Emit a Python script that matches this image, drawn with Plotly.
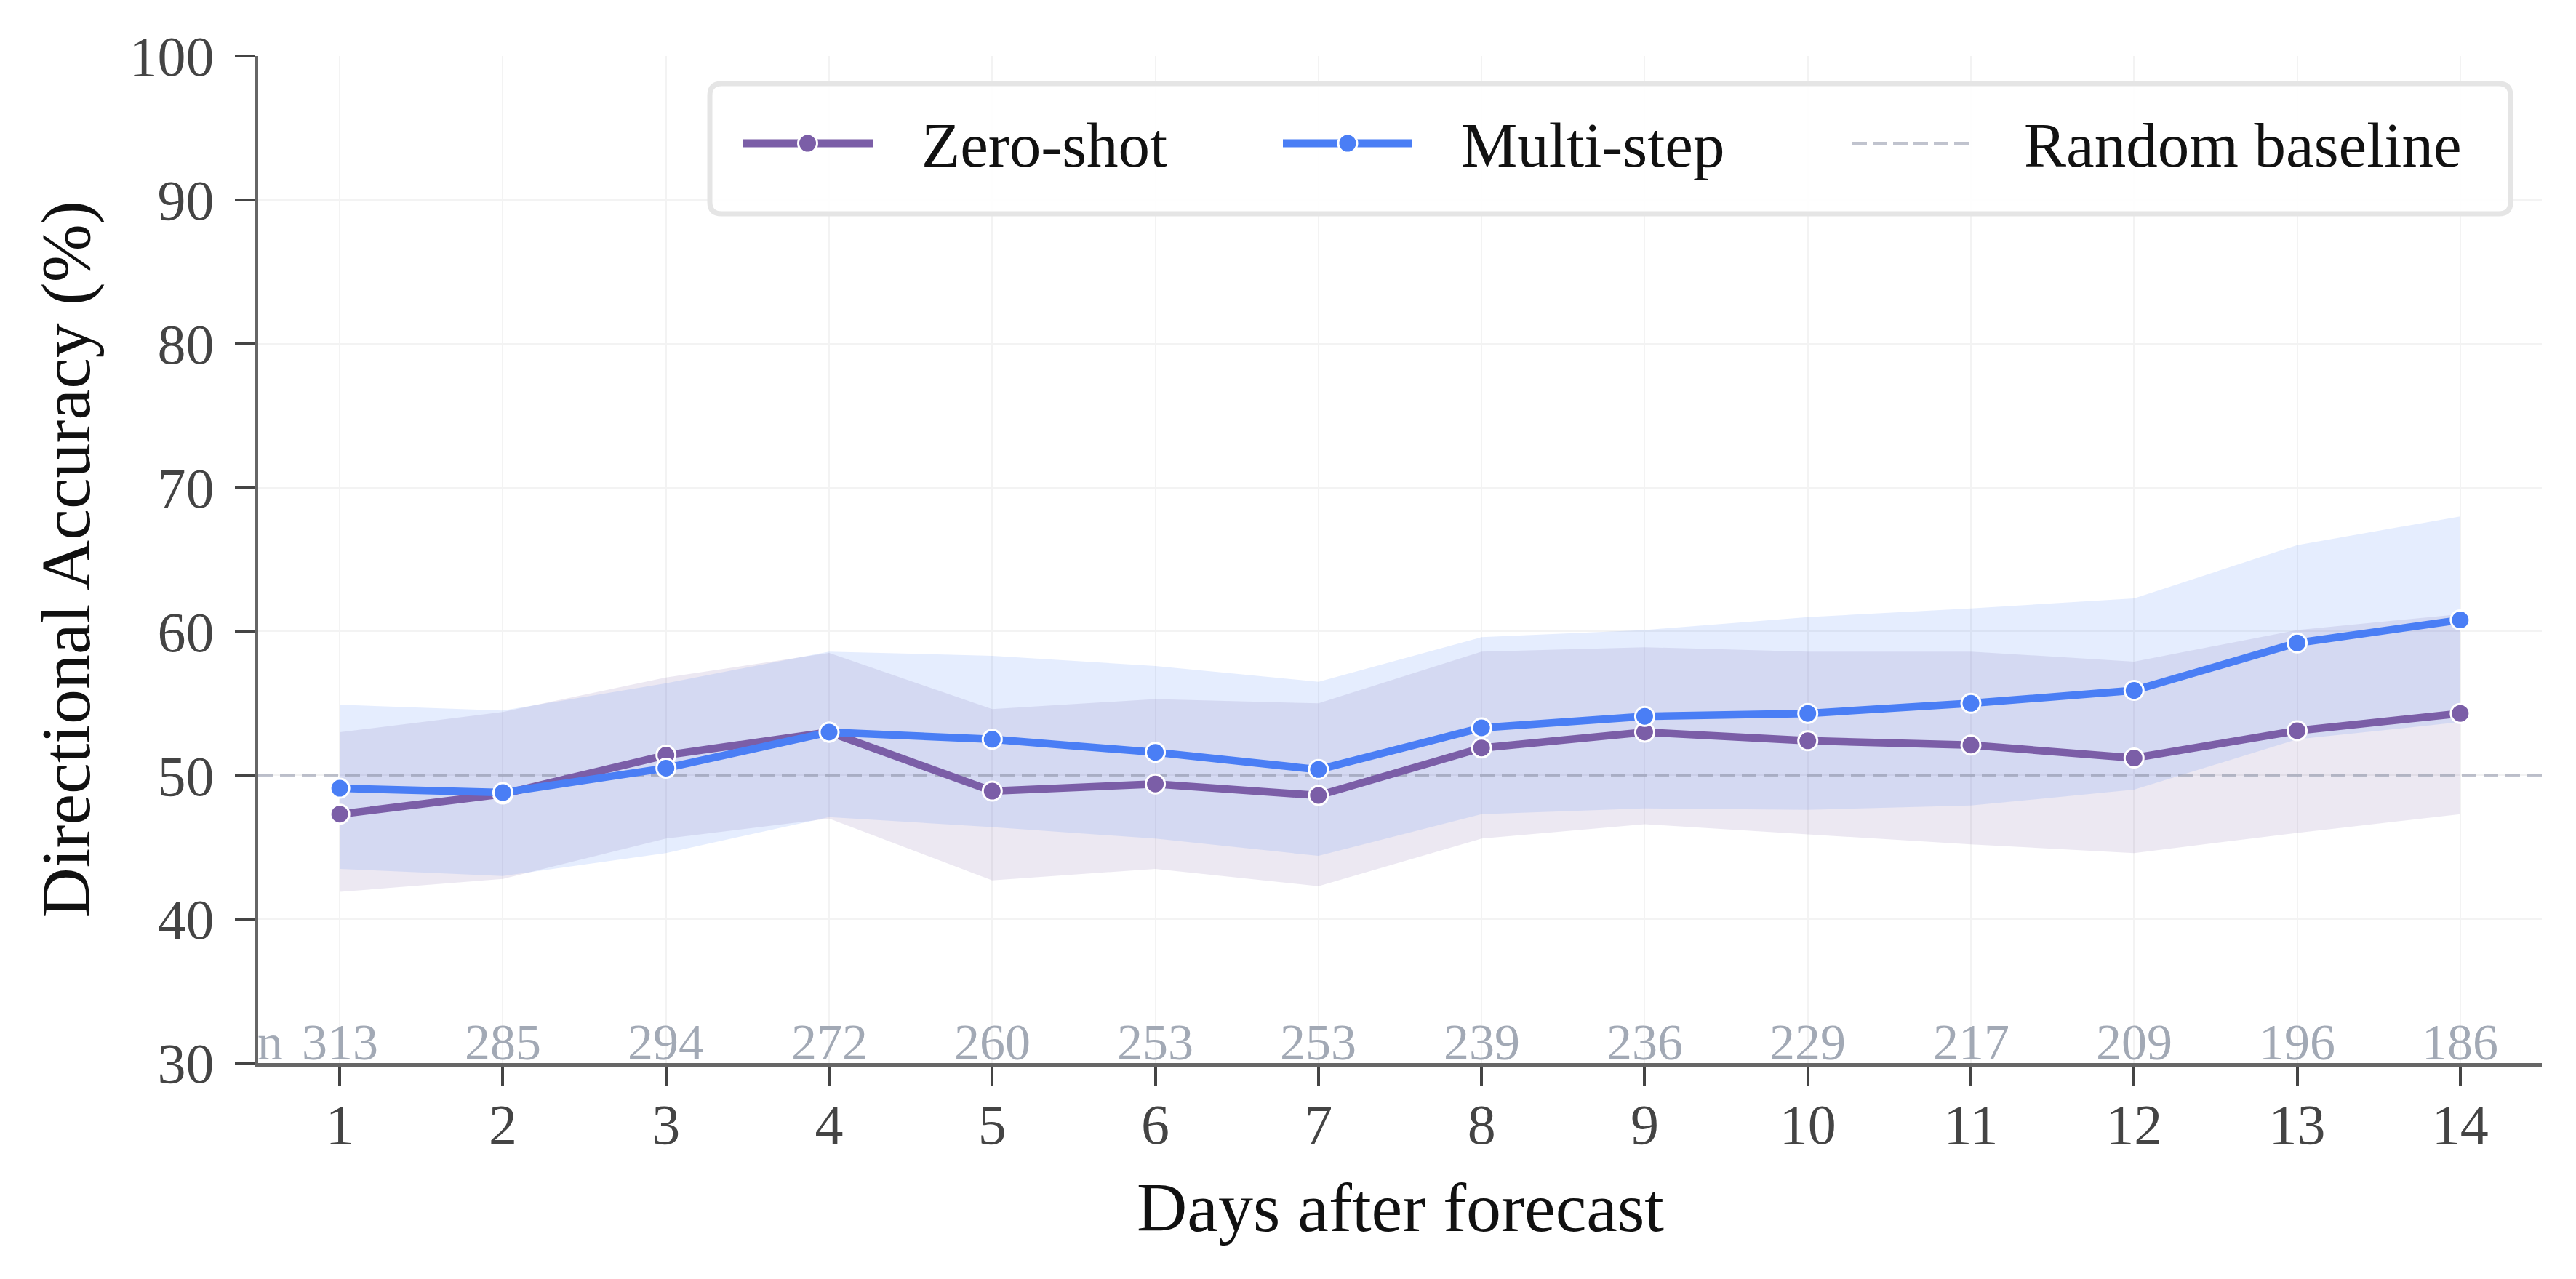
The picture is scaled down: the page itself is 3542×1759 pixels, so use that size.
import plotly.graph_objects as go

# ---------------- data ----------------
DAYS = [1, 2, 3, 4, 5, 6, 7, 8, 9, 10, 11, 12, 13, 14]
N_COUNTS = [313, 285, 294, 272, 260, 253, 253, 239, 236, 229, 217, 209, 196, 186]

ZS_ACC = [47.3, 48.7, 51.4, 53.0, 48.9, 49.4, 48.6, 51.9, 53.0, 52.4, 52.1, 51.2, 53.1, 54.3]
ZS_LO = [41.9, 42.8, 45.6, 47.0, 42.7, 43.5, 42.3, 45.6, 46.6, 45.9, 45.2, 44.6, 46.0, 47.3]
ZS_HI = [53.0, 54.4, 56.8, 58.5, 54.6, 55.3, 55.0, 58.6, 58.9, 58.6, 58.6, 57.9, 60.1, 61.2]

MS_ACC = [49.1, 48.8, 50.5, 53.0, 52.5, 51.6, 50.4, 53.3, 54.1, 54.3, 55.0, 55.9, 59.2, 60.8]
MS_LO = [43.5, 43.0, 44.6, 47.1, 46.4, 45.6, 44.4, 47.3, 47.7, 47.6, 47.9, 49.0, 52.5, 53.7]
MS_HI = [54.9, 54.5, 56.4, 58.6, 58.3, 57.6, 56.5, 59.6, 60.1, 61.0, 61.6, 62.3, 66.0, 68.0]

BASELINE = 50
Y_TICKS = [30, 40, 50, 60, 70, 80, 90, 100]
X_RANGE = [0.5, 14.5]
Y_RANGE = [30, 100]

SERIES_NAMES = ["Zero-shot", "Multi-step", "Random baseline"]

# ---------------- style ----------------
PURPLE = "#7b5ea7"
BLUE = "#4a7ef5"
FONT = "Liberation Serif"
W, H = 3542, 1759
ML, MR, MT, MB = 355, 47, 77, 297
PW = W - ML - MR
PH = H - MT - MB


def px_x(px):
    return (px - ML) / PW


def px_y(py):
    return (H - MB - py) / PH


fig = go.Figure()

# confidence bands
fig.add_trace(go.Scatter(
    x=DAYS + DAYS[::-1], y=ZS_HI + ZS_LO[::-1], fill="toself",
    fillcolor="rgba(123,94,167,0.145)", line=dict(width=0), mode="lines",
    hoverinfo="skip", showlegend=False))
fig.add_trace(go.Scatter(
    x=DAYS + DAYS[::-1], y=MS_HI + MS_LO[::-1], fill="toself",
    fillcolor="rgba(74,126,245,0.14)", line=dict(width=0), mode="lines",
    hoverinfo="skip", showlegend=False))

# random baseline
fig.add_trace(go.Scatter(
    x=X_RANGE, y=[BASELINE, BASELINE], mode="lines",
    line=dict(color="rgba(140,146,165,0.55)", width=4, dash="20px,10px"),
    showlegend=False, name=SERIES_NAMES[2]))

# series lines
for acc, col, name in [(ZS_ACC, PURPLE, SERIES_NAMES[0]), (MS_ACC, BLUE, SERIES_NAMES[1])]:
    fig.add_trace(go.Scatter(
        x=DAYS, y=acc, mode="lines+markers", name=name,
        line=dict(color=col, width=10.5),
        marker=dict(size=26, color=col, line=dict(color="white", width=3)),
        showlegend=False))

annotations = []
# n labels
for d, n in zip(DAYS, N_COUNTS):
    annotations.append(dict(
        x=d, y=Y_RANGE[0], xref="x", yref="y", text=str(n), showarrow=False,
        xanchor="center", yanchor="bottom", yshift=-12,
        font=dict(family=FONT, size=70, color="#a2a9b5")))
annotations.append(dict(
    x=DAYS[0], y=Y_RANGE[0], xref="x", yref="y", text="n", showarrow=False,
    xanchor="right", yanchor="bottom", yshift=-12, xshift=-76,
    font=dict(family=FONT, size=70, color="#a2a9b5")))

# axis titles
annotations.append(dict(
    x=0.5, y=px_y(1660), xref="paper", yref="paper", text="Days after forecast",
    showarrow=False, xanchor="center", yanchor="middle",
    font=dict(family=FONT, size=96, color="#111111")))
annotations.append(dict(
    x=px_x(90), y=0.5, xref="paper", yref="paper", text="Directional Accuracy (%)",
    showarrow=False, xanchor="center", yanchor="middle", textangle=-90,
    font=dict(family=FONT, size=96, color="#111111")))

# custom legend
shapes = []
bx0, bx1, by0, by1 = 976, 3452, 115, 294
r = 16
rx, ry = r / PW, r / PH
X0, X1, Y0, Y1 = px_x(bx0), px_x(bx1), px_y(by1), px_y(by0)
path = (f"M {X0+rx},{Y1} L {X1-rx},{Y1} Q {X1},{Y1} {X1},{Y1-ry} "
        f"L {X1},{Y0+ry} Q {X1},{Y0} {X1-rx},{Y0} L {X0+rx},{Y0} "
        f"Q {X0},{Y0} {X0},{Y0+ry} L {X0},{Y1-ry} Q {X0},{Y1} {X0+rx},{Y1} Z")
shapes.append(dict(type="path", path=path, xref="paper", yref="paper",
                   fillcolor="rgba(255,255,255,0.9)", line=dict(color="#e5e5e5", width=7),
                   layer="above"))
ly = px_y(197)
legend_items = [
    (SERIES_NAMES[0], PURPLE, 1021, 1200, 1265, True, "solid", 11),
    (SERIES_NAMES[1], BLUE, 1764, 1942, 2007, True, "solid", 11),
    (SERIES_NAMES[2], "rgba(140,146,165,0.55)", 2547, 2714, 2781, False, "20px,8px", 4),
]
for name, col, lx0, lx1, tx, has_marker, dash, lw in legend_items:
    shapes.append(dict(type="line", xref="paper", yref="paper",
                       x0=px_x(lx0), x1=px_x(lx1), y0=ly, y1=ly,
                       line=dict(color=col, width=lw, dash=dash), layer="above"))
    if has_marker:
        cx = (lx0 + lx1) / 2
        rr = 13
        shapes.append(dict(type="circle", xref="paper", yref="paper",
                           x0=px_x(cx - rr), x1=px_x(cx + rr),
                           y0=px_y(197 + rr), y1=px_y(197 - rr),
                           fillcolor=col, line=dict(color="white", width=3), layer="above"))
    annotations.append(dict(
        x=px_x(tx), y=px_y(199), xref="paper", yref="paper", text=name,
        showarrow=False, xanchor="left", yanchor="middle",
        font=dict(family=FONT, size=87, color="#111111")))

axis_common = dict(
    showline=True, linecolor="#666666", linewidth=5,
    ticks="outside", ticklen=27, tickwidth=4, tickcolor="#444444",
    showgrid=True, gridcolor="#f3f3f3", gridwidth=2, zeroline=False,
    tickfont=dict(family=FONT, size=78, color="#444444"),
)

fig.update_layout(
    width=W, height=H,
    margin=dict(l=ML, r=MR, t=MT, b=MB, pad=0),
    paper_bgcolor="white", plot_bgcolor="white",
    font=dict(family=FONT),
    showlegend=False,
    xaxis=dict(range=X_RANGE, tickvals=DAYS, ticktext=[str(d) for d in DAYS],
               ticklabelstandoff=-15, **axis_common),
    yaxis=dict(range=Y_RANGE, tickvals=Y_TICKS, ticktext=[str(t) for t in Y_TICKS],
               ticklabelstandoff=13, **axis_common),
    annotations=annotations,
    shapes=shapes,
)

fig.write_html("out.html")
